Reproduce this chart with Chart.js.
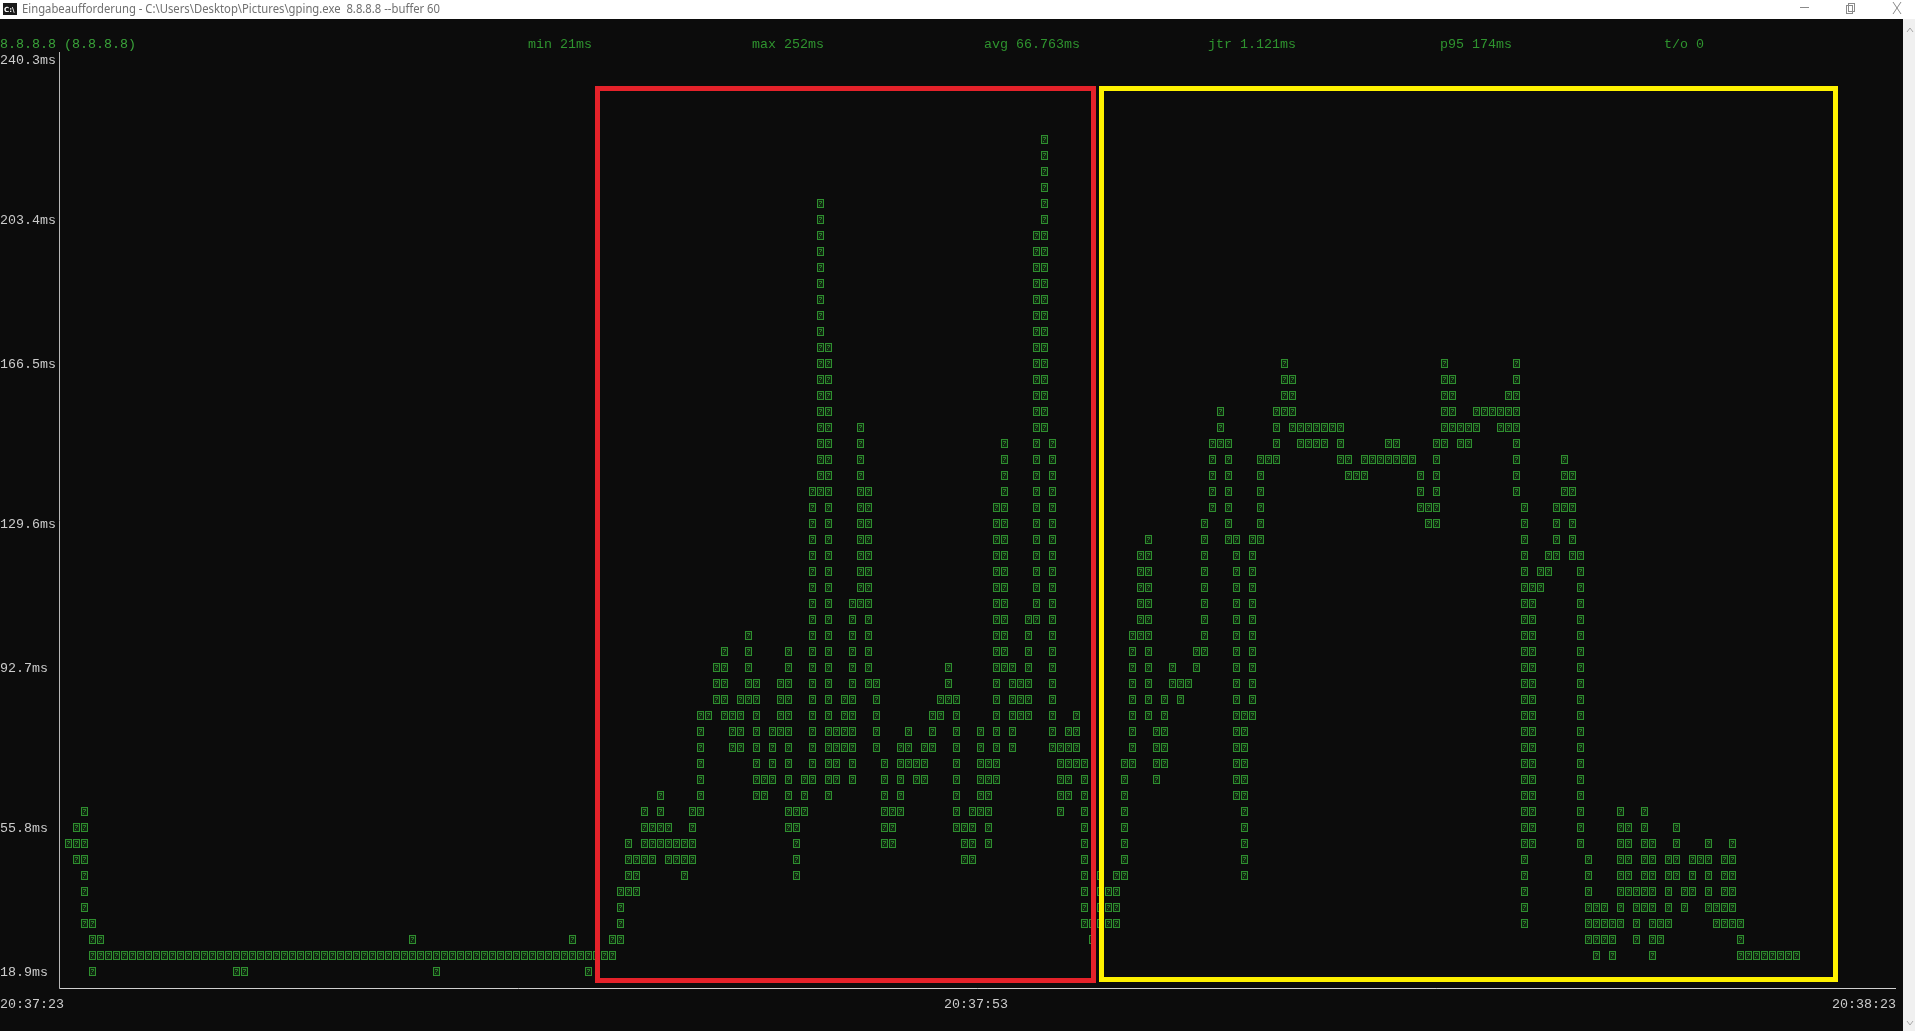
<!DOCTYPE html>
<html>
<head>
<meta charset="utf-8">
<title>gping 8.8.8.8</title>
<script src="https://cdn.jsdelivr.net/npm/chart.js@4/dist/chart.umd.min.js"></script>
<style>
  html, body { margin: 0; padding: 0; background: #0c0c0c; overflow: hidden; }
  canvas { display: block; }
</style>
</head>
<body>
<canvas id="grafico" width="1915" height="1031"></canvas>
<script>
// textos da janela
const tituloJanela = "Eingabeaufforderung - C:\\Users\\Desktop\\Pictures\\gping.exe  8.8.8.8 --buffer 60";
const estatisticas = ["8.8.8.8 (8.8.8.8)", "min 21ms", "max 252ms", "avg 66.763ms", "jtr 1.121ms", "p95 174ms", "t/o 0"];

// eixos
const ticksY = [18.9, 55.8, 92.7, 129.6, 166.5, 203.4, 240.3];
const ticksX = ["20:37:23", "20:37:53", "20:38:23"];

// faixa de latencia (ms) coberta em cada coluna do terminal, da esquerda para a direita
const pingMax = [
  50.0, 53.9, 57.7, 30.6, 26.7, 22.8, 22.8, 22.8, 22.8, 22.8,
  22.8, 22.8, 22.8, 22.8, 22.8, 22.8, 22.8, 22.8, 22.8, 22.8,
  22.8, 22.8, 22.8, 22.8, 22.8, 22.8, 22.8, 22.8, 22.8, 22.8,
  22.8, 22.8, 22.8, 22.8, 22.8, 22.8, 22.8, 22.8, 22.8, 22.8,
  22.8, 22.8, 22.8, 26.7, 22.8, 22.8, 22.8, 22.8, 22.8, 22.8,
  22.8, 22.8, 22.8, 22.8, 22.8, 22.8, 22.8, 22.8, 22.8, 22.8,
  22.8, 22.8, 22.8, 26.7, 22.8, 22.8, 22.8, 22.8, 26.7, 38.3,
  50.0, 46.1, 57.7, 53.9, 61.6, 53.9, 50.0, 50.0, 57.7, 81.0,
  81.0, 92.7, 96.6, 81.0, 84.9, 100.5, 88.8, 65.5, 77.2, 88.8,
  96.6, 57.7, 65.5, 135.4, 205.3, 170.4, 77.2, 84.9, 108.2, 151.0,
  135.4, 88.8, 69.4, 57.7, 73.3, 77.2, 69.4, 73.3, 81.0, 84.9,
  92.7, 84.9, 53.9, 57.7, 77.2, 69.4, 131.5, 147.1, 92.7, 88.8,
  104.4, 197.6, 220.9, 147.1, 73.3, 77.2, 81.0, 69.4, 30.6, 42.2,
  38.3, 42.2, 69.4, 100.5, 119.9, 123.8, 77.2, 84.9, 92.7, 88.8,
  88.8, 96.6, 127.7, 147.1, 154.9, 147.1, 123.8, 81.0, 123.8, 143.2,
  143.2, 154.9, 166.5, 162.6, 151.0, 151.0, 151.0, 151.0, 151.0, 151.0,
  143.2, 139.3, 143.2, 143.2, 143.2, 147.1, 147.1, 143.2, 143.2, 139.3,
  131.5, 147.1, 166.5, 162.6, 151.0, 151.0, 154.9, 154.9, 154.9, 154.9,
  158.7, 166.5, 131.5, 112.1, 116.0, 119.9, 131.5, 143.2, 139.3, 119.9,
  46.1, 34.4, 34.4, 30.6, 57.7, 53.9, 38.3, 57.7, 50.0, 30.6,
  46.1, 53.9, 38.3, 46.1, 46.1, 50.0, 34.4, 46.1, 50.0, 30.6,
  22.8, 22.8, 22.8, 22.8, 22.8, 22.8, 22.8,
  null, null, null, null, null, null, null, null, null, null, null, null
];
const pingMin = [
  50.0, 46.1, 30.6, 18.9, 22.8, 22.8, 22.8, 22.8, 22.8, 22.8,
  22.8, 22.8, 22.8, 22.8, 22.8, 22.8, 22.8, 22.8, 22.8, 22.8,
  22.8, 18.9, 18.9, 22.8, 22.8, 22.8, 22.8, 22.8, 22.8, 22.8,
  22.8, 22.8, 22.8, 22.8, 22.8, 22.8, 22.8, 22.8, 22.8, 22.8,
  22.8, 22.8, 22.8, 22.8, 22.8, 22.8, 18.9, 22.8, 22.8, 22.8,
  22.8, 22.8, 22.8, 22.8, 22.8, 22.8, 22.8, 22.8, 22.8, 22.8,
  22.8, 22.8, 22.8, 22.8, 22.8, 18.9, 22.8, 22.8, 22.8, 26.7,
  38.3, 38.3, 46.1, 46.1, 50.0, 46.1, 46.1, 42.2, 46.1, 57.7,
  81.0, 84.9, 81.0, 73.3, 73.3, 84.9, 61.6, 61.6, 65.5, 77.2,
  53.9, 42.2, 57.7, 65.5, 135.4, 61.6, 65.5, 73.3, 65.5, 108.2,
  88.8, 73.3, 50.0, 50.0, 57.7, 69.4, 65.5, 65.5, 73.3, 81.0,
  84.9, 53.9, 46.1, 46.1, 57.7, 50.0, 65.5, 92.7, 73.3, 81.0,
  81.0, 104.4, 151.0, 73.3, 57.7, 61.6, 69.4, 30.6, 26.7, 30.6,
  30.6, 30.6, 42.2, 69.4, 100.5, 81.0, 65.5, 69.4, 88.8, 84.9,
  88.8, 92.7, 96.6, 131.5, 147.1, 123.8, 61.6, 42.2, 81.0, 123.8,
  143.2, 143.2, 154.9, 151.0, 147.1, 147.1, 147.1, 147.1, 151.0, 143.2,
  139.3, 139.3, 139.3, 143.2, 143.2, 143.2, 143.2, 143.2, 143.2, 131.5,
  127.7, 127.7, 147.1, 151.0, 147.1, 147.1, 151.0, 154.9, 154.9, 151.0,
  151.0, 135.4, 30.6, 50.0, 112.1, 116.0, 119.9, 131.5, 119.9, 50.0,
  26.7, 22.8, 26.7, 22.8, 30.6, 38.3, 26.7, 34.4, 22.8, 26.7,
  30.6, 42.2, 34.4, 38.3, 46.1, 34.4, 30.6, 30.6, 30.6, 22.8,
  22.8, 22.8, 22.8, 22.8, 22.8, 22.8, 22.8,
  null, null, null, null, null, null, null, null, null, null, null, null
];

// grade do terminal
const COL = 8;
const LINHA = 16;
const FONTE = "13.33px 'Liberation Mono', 'DejaVu Sans Mono', monospace";
const VERDE = "#2f8f2f";

const colunas = pingMax.map((_, i) => i);
const faixas = colunas.map(i => pingMax[i] === null ? null : [pingMin[i], pingMax[i]]);

function desenharJanela(ctx, chart) {
  const W = chart.width, H = chart.height;
  ctx.fillStyle = "#0c0c0c";
  ctx.fillRect(0, 0, W, H);

  // barra de titulo
  ctx.fillStyle = "#ffffff";
  ctx.fillRect(0, 0, W, 19);
  ctx.fillStyle = "#1a1a1a";
  ctx.fillRect(3, 3, 14, 12);
  ctx.fillStyle = "#ffffff";
  ctx.font = "bold 7px 'DejaVu Sans'";
  ctx.textBaseline = "middle";
  ctx.fillText("C:\\", 4, 10);
  ctx.font = "12px 'Noto Sans', 'Liberation Sans', sans-serif";
  ctx.fillStyle = "#707070";
  const larg = ctx.measureText(tituloJanela).width;
  ctx.save();
  ctx.translate(22, 9.5);
  ctx.scale(418 / larg, 1);
  ctx.fillText(tituloJanela, 0, 0);
  ctx.restore();

  // botoes da janela
  ctx.strokeStyle = "#8a8a8a";
  ctx.lineWidth = 1;
  ctx.beginPath();
  ctx.moveTo(1800, 7.5); ctx.lineTo(1809, 7.5);
  ctx.stroke();
  ctx.strokeRect(1846.5, 5.5, 6, 8);
  ctx.strokeRect(1848.5, 3.5, 6, 8);
  ctx.beginPath();
  ctx.moveTo(1893, 2); ctx.lineTo(1901, 14);
  ctx.moveTo(1901, 2); ctx.lineTo(1893, 14);
  ctx.stroke();

  // barra de rolagem
  ctx.fillStyle = "#f0f0f0";
  ctx.fillRect(1903, 19, W - 1903, H - 19);
  ctx.strokeStyle = "#a8a8a8";
  ctx.beginPath();
  ctx.moveTo(1907, 32); ctx.lineTo(1910, 28); ctx.lineTo(1913, 32);
  ctx.moveTo(1907, 1021); ctx.lineTo(1910, 1025); ctx.lineTo(1913, 1021);
  ctx.stroke();
}

function desenharGlifo(ctx, esq, cy) {
  ctx.fillStyle = "#112611";
  ctx.fillRect(esq + 1, cy - 5, 7, 9);
  ctx.strokeStyle = VERDE;
  ctx.lineWidth = 1;
  ctx.strokeRect(esq + 1.5, cy - 4.5, 6, 8);
  ctx.fillStyle = "#2b7f2b";
  ctx.fillRect(esq + 3, cy - 3, 3, 1);
  ctx.fillRect(esq + 5, cy - 2, 1, 1);
  ctx.fillRect(esq + 4, cy - 1, 1, 1);
  ctx.fillRect(esq + 3, cy + 1, 1, 1);
}

const terminal = {
  id: "terminal",
  beforeDraw(chart) {
    const ctx = chart.ctx;
    const area = chart.chartArea;
    const y = chart.scales.y;
    desenharJanela(ctx, chart);

    ctx.font = FONTE;
    ctx.textBaseline = "middle";

    // cabecalho com as estatisticas
    const posCabecalho = [0, 66, 94, 123, 151, 180, 208];
    estatisticas.forEach((txt, i) => {
      ctx.fillStyle = i === 0 ? "#3aa33a" : "#2f942f";
      ctx.fillText(txt, posCabecalho[i] * COL, area.top - LINHA);
    });

    // rotulos do eixo y, presos na grade de linhas
    ctx.fillStyle = "#cccccc";
    ticksY.forEach(v => {
      const r = Math.round((y.getPixelForValue(v) - area.top) / LINHA);
      ctx.fillText(v.toFixed(1) + "ms", 0, area.top + r * LINHA);
    });

    // linhas dos eixos
    const yEixoX = area.bottom + LINHA + 0.5;
    const xEixoY = area.left - COL / 2 - 0.5;
    ctx.strokeStyle = "#b8b8b8";
    ctx.lineWidth = 1;
    ctx.beginPath();
    ctx.moveTo(xEixoY, area.top - LINHA / 2);
    ctx.lineTo(xEixoY, yEixoX);
    ctx.stroke();
    ctx.strokeStyle = "#d0d0d0";
    ctx.beginPath();
    ctx.moveTo(xEixoY, yEixoX);
    ctx.lineTo(area.right, yEixoX);
    ctx.stroke();

    // rotulos do eixo x
    ctx.fillStyle = "#cccccc";
    const yRot = area.bottom + 2 * LINHA;
    ctx.fillText(ticksX[0], 0, yRot);
    const wMeio = ctx.measureText(ticksX[1]).width;
    const xMeio = Math.floor(((area.left + area.right) / 2 - wMeio / 2) / COL) * COL;
    ctx.fillText(ticksX[1], xMeio, yRot);
    const wFim = ctx.measureText(ticksX[2]).width;
    ctx.fillText(ticksX[2], area.right - wFim, yRot);
  },
  afterDatasetsDraw(chart) {
    const ctx = chart.ctx;
    const area = chart.chartArea;
    const meta = chart.getDatasetMeta(0);
    meta.data.forEach((bar, i) => {
      if (!faixas[i]) return;
      const topo = Math.min(bar.y, bar.base);
      const base = Math.max(bar.y, bar.base);
      const r1 = Math.round((topo - area.top) / LINHA);
      const r2 = Math.round((base - area.top) / LINHA);
      const esq = Math.round(bar.x - COL / 2);
      for (let r = r1; r <= r2; r++) {
        desenharGlifo(ctx, esq, area.top + r * LINHA);
      }
    });

    // molduras coloridas sobre a captura
    ctx.lineWidth = 5;
    ctx.strokeStyle = "#e5222a";
    ctx.strokeRect(597.5, 88.5, 496, 892);
    ctx.strokeStyle = "#fff200";
    ctx.strokeRect(1101.5, 88.5, 734, 891);
  }
};

new Chart(document.getElementById("grafico"), {
  type: "bar",
  data: {
    labels: colunas,
    datasets: [{
      label: "8.8.8.8",
      data: faixas,
      backgroundColor: "rgba(0,0,0,0)",
      borderWidth: 0,
      barPercentage: 1,
      categoryPercentage: 1
    }]
  },
  options: {
    responsive: false,
    animation: false,
    events: [],
    layout: { padding: { left: 64, right: 19, top: 60, bottom: 59 } },
    plugins: { legend: { display: false }, tooltip: { enabled: false } },
    scales: {
      x: { display: false },
      y: { display: false, min: 18.9, max: 240.3 }
    }
  },
  plugins: [terminal]
});
</script>
</body>
</html>
